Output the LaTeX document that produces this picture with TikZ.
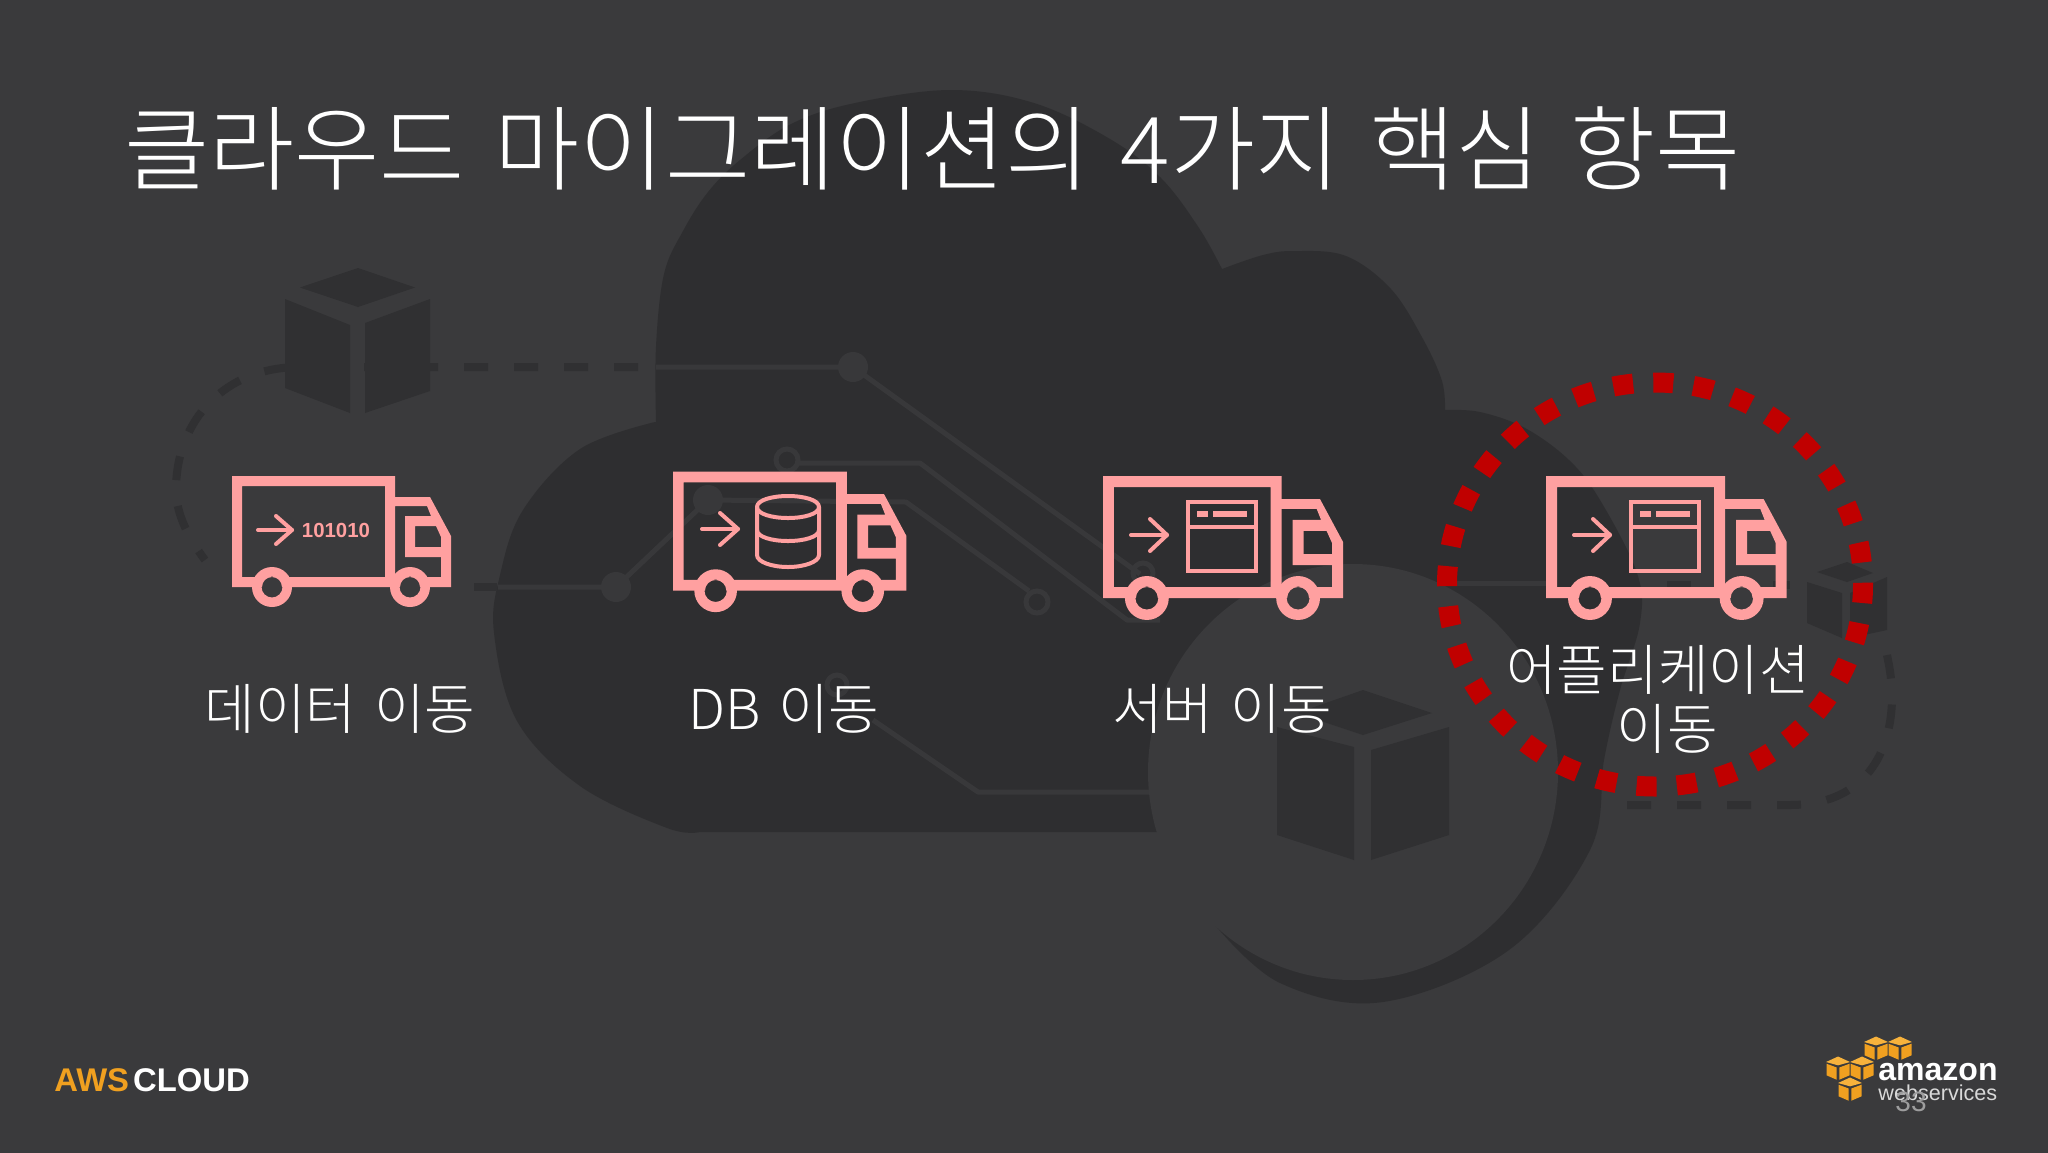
\documentclass[tikz,border=0pt]{standalone}
\usepackage{fontspec}
\newfontfamily\kr[WordSpace=1.45]{Noto Sans CJK KR Light}
\newfontfamily\awsb{Liberation Sans}[BoldFont=Liberation Sans Bold]
\definecolor{bgc}{HTML}{3A3A3C}
\definecolor{darkc}{HTML}{2E2E30}
\definecolor{tracec}{HTML}{38383A}
\definecolor{dashc}{HTML}{303032}
\definecolor{pinkc}{HTML}{FFA0A0}
\definecolor{redc}{HTML}{C00000}
\definecolor{orangec}{HTML}{F0A020}
\definecolor{cubelight}{HTML}{F7B23C}
\tikzset{
  trace/.style={draw=tracec,line width=2.5pt,line join=round},
  dashline/.style={draw=dashc,line width=4pt,dash pattern=on 12pt off 13pt},
  ringnode/.style={draw=tracec,line width=2.5pt,fill=none},
  dotnode/.style={fill=tracec},
  cubeface/.style={fill=dashc},
  pinkline/.style={draw=pinkc,line width=2pt,line cap=round,line join=round},
  framepink/.style={draw=pinkc,line width=2.2pt},
  label/.style={text=white,font=\kr\fontsize{27.5}{33}\selectfont,inner sep=0pt,align=center},
}
\newcommand{\truckshape}[4]{%
 \begin{scope}[shift={(#1,#2)},xscale=#3,yscale=#4]
  \fill[pinkc,even odd rule]
   (0,0)--(163,0)--(163,21)--(198,21)--(219,60)--(219,111)--(188,111)
   .. controls (188,105.5) and (183.5,101) .. (178,101)
   .. controls (172.5,101) and (168,105.5) .. (168,111)
   --(50,111)
   .. controls (50,105.5) and (45.5,101) .. (40,101)
   .. controls (34.5,101) and (30,105.5) .. (30,111)
   --(0,111)--cycle
   (10,10)--(153,10)--(153,101)--(10,101)--cycle
   (163,30)--(195,30)--(199,40)--(173,40)--(173,81)--(209,81)--(209,101)--(163,101)--cycle
   (183,50)--(204,50)--(209,61)--(209,71)--(183,71)--cycle;
  \fill[pinkc,even odd rule] (40,111) circle[radius=20] (40,111) circle[radius=10.5];
  \fill[pinkc,even odd rule] (178,111) circle[radius=20] (178,111) circle[radius=10.5];
 \end{scope}}
\newcommand{\arrowmark}[5]{% x0 x1 y headx halfh
 \draw[pinkline] (#1,#3)--(#2,#3);
 \draw[pinkline] (#4,#3-#5)--(#2,#3)--(#4,#3+#5);}
\newcommand{\windowmark}[1]{%
 \begin{scope}[shift={(#1,0)}]
  \draw[framepink] (1188,502) rectangle (1256,571);
  \draw[framepink] (1188,527)--(1256,527);
  \fill[pinkc] (1197,511) rectangle (1208,517);
  \fill[pinkc] (1213,511) rectangle (1247,517);
 \end{scope}}
\newcommand{\awscube}[2]{%
 \begin{scope}[shift={(#1,#2)}]
  \fill[cubelight] (0,-11.5)--(12,-6)--(0,-2.7)--(-12,-6)--cycle;
  \fill[orangec] (-11.5,-4.3)--(-1.3,-.5)--(-1.3,11.7)--(-11.5,7.3)--cycle;
  \fill[orangec] (11.5,-4.3)--(1.3,-.5)--(1.3,11.7)--(11.5,7.3)--cycle;
 \end{scope}}
\begin{document}
\begin{tikzpicture}[x=.5pt,y=-.5pt]
\useasboundingbox (0,0) rectangle (2048,1152);
\fill[bgc] (-6,-6) rectangle (2054,1158);
% cloud
\fill[darkc] plot[smooth,tension=.6] coordinates {(700,832)(667,828)(580,786)(517,721)(494,633)(500,575)(523,510)(580,449)(655,422)}
  -- plot[smooth,tension=.6] coordinates {(656,422)(656,346)(664,274)(683,231)(708,192)(740,160)(791,124)(855,103)(951,90)(1034,103)(1110,139)(1161,178)(1199,228)(1222,269)}
  -- plot[smooth,tension=.6] coordinates {(1222,269)(1263,255)(1295,251)(1346,256)(1391,289)(1423,339)(1442,381)(1445,410)}
  -- plot[smooth,tension=.6] coordinates {(1445,410)(1480,412)(1525,428)(1569,460)(1600,500)(1637,573)(1640,623)(1620,690)(1604,760)(1590,850)(1509,950)(1383,1002)(1280,983)(1215,925)}
  -- (1200,832) -- cycle;
% dashed paths on the background
\draw[dashline] (638,367)--(300,367) .. controls (225,367) and (176,420) .. (176,490) .. controls (176,515) and (190,540) .. (205,560);
\draw[dashline] (497,587)--(474,587);
\draw[dashline] (1627,805)--(1790,805) .. controls (1850,805) and (1890,770) .. (1892,700) .. controls (1892,680) and (1890,670) .. (1887,655);
\draw[dashline] (1667,585)--(1693,585);
\draw[dashline] (1773,585)--(1790,585);
% circuit traces
\draw[trace] (656,367)--(853,367)--(1140,574);
\fill[dotnode] (853,367) circle[radius=15];
\draw[ringnode] (787,460) circle[radius=11];
\draw[trace] (798,463)--(920,463)--(1127,620)--(1160,620);
\draw[trace] (708,500)--(906,502)--(1029,591);
\draw[ringnode] (1037,602) circle[radius=11];
\fill[dotnode] (708,500) circle[radius=15];
\draw[trace] (708,500)--(616,587)--(498,587);
\fill[dotnode] (616,587) circle[radius=15];
\draw[ringnode] (1143,573) circle[radius=10];
\draw[ringnode] (837,685) circle[radius=10];
\draw[trace] (873,720)--(978,792)--(1150,792);
\draw[trace] (1447,583)--(1547,583);
% light circle
\fill[bgc] (1353,772) ellipse [x radius=205,y radius=208];
% cubes
\fill[cubeface] (358,268)--(415,287.5)--(358,307)--(300,287.5)--cycle;
\fill[cubeface] (285,299)--(350,325)--(350,413)--(285,388)--cycle;
\fill[cubeface] (365,323)--(430,299)--(430,391)--(365,413)--cycle;
\fill[cubeface] (1363,690)--(1432,713)--(1363,735)--(1297,713)--cycle;
\fill[cubeface] (1277,727)--(1354,747)--(1354,860)--(1277,835)--cycle;
\fill[cubeface] (1371,750)--(1449,727)--(1449,835)--(1371,860)--cycle;
\fill[cubeface] (1847,562)--(1873,573)--(1847,582)--(1817,572)--cycle;
\fill[cubeface] (1807,582)--(1842,593)--(1842,638)--(1807,623)--cycle;
\fill[cubeface] (1850,593)--(1887,577)--(1887,630)--(1850,638)--cycle;
% title
\node[anchor=base west,inner sep=0pt,text=white,font=\kr\fontsize{46.3}{55}\selectfont] (title) at (124,183) {클라우드 마이그레이션의 4가지 핵심 항목};
% trucks
\truckshape{232}{476}{1}{1}
\arrowmark{258}{292}{530}{276}{14}
\node[inner sep=0pt,text=pinkc,font=\awsb\bfseries\fontsize{10.2}{12}\selectfont] (bits) at (336,530) {101010};
\truckshape{673}{471.7}{1.066}{1.072}
\arrowmark{702}{738}{529}{720}{16}
\draw[pinkline] (757,507) -- (757,555) .. controls (757,562) and (772,567) .. (788,567) .. controls (804,567) and (819,562) .. (819,555) -- (819,507);
\draw[pinkline] (788,496) .. controls (772,496) and (757,500) .. (757,507) .. controls (757,514) and (772,518) .. (788,518) .. controls (804,518) and (819,514) .. (819,507) .. controls (819,500) and (804,496) .. (788,496) -- cycle;
\draw[pinkline] (757,530) .. controls (757,537) and (772,541) .. (788,541) .. controls (804,541) and (819,537) .. (819,530);
\truckshape{1103}{476}{1.096}{1.099}
\arrowmark{1131}{1167}{535}{1150}{16}
\windowmark{0}
\truckshape{1546}{476}{1.099}{1.099}
\arrowmark{1574}{1610}{535}{1593}{16}
\windowmark{443}
% labels
\node[label] (l1) at (340,709) {데이터 이동};
\node[label] (l2) at (784,709) {DB 이동};
\node[label] (l3) at (1222,709) {서버 이동};
\node[label] (l4a) at (1658,670) {어플리케이션};
\node[label] (l4b) at (1667,729) {이동};
% dotted ring
\draw[redc,line width=10pt,dash pattern=on 10pt off 10.125pt,dash phase=.75pt] (1655,584.5) ellipse [x radius=208,y radius=202];
% footer
\node[anchor=base west,inner sep=0pt,font=\awsb\bfseries\fontsize{16.4}{19}\selectfont] (awscloud) at (54,1091) {\textcolor{orangec}{AWS}\hspace{2pt}\textcolor{white}{CLOUD}};
\awscube{1876}{1048}
\awscube{1900}{1048}
\awscube{1838}{1068}
\awscube{1862}{1068}
\awscube{1850}{1089}
\node[anchor=base west,inner sep=0pt,text=white,font=\awsb\bfseries\fontsize{16}{19}\selectfont] (amazon) at (1878,1080) {amazon};
\node[anchor=base west,inner sep=0pt,text=white!85!black,font=\awsb\fontsize{10.8}{13}\selectfont] (webserv) at (1878,1100) {webservices};
\node[anchor=base west,inner sep=0pt,text=white!50!bgc,font=\awsb\fontsize{14}{16}\selectfont] (pagenum) at (1895,1111) {33};
\end{tikzpicture}
\end{document}
